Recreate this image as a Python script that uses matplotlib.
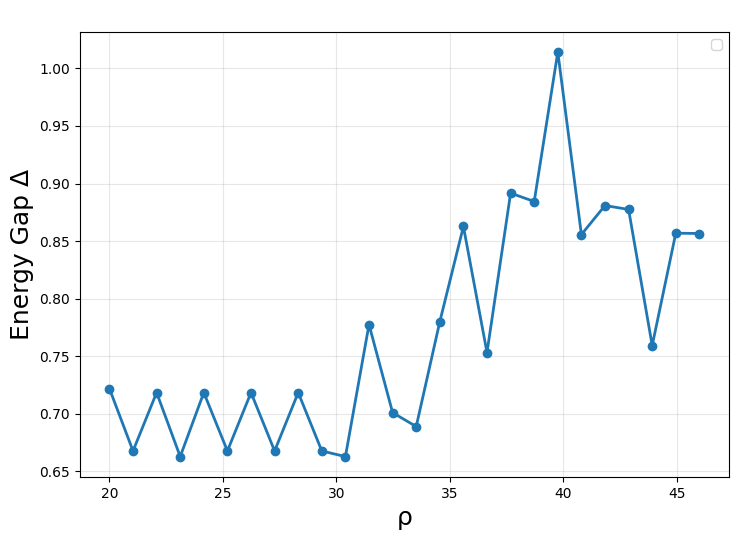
import numpy as np
import matplotlib
matplotlib.use("Agg")
import matplotlib.pyplot as plt

rho = [20.0, 21.04, 22.08, 23.12, 24.16, 25.2, 26.24, 27.28, 28.32, 29.36,
       30.4, 31.44, 32.48, 33.52, 34.56, 35.6, 36.64, 37.68, 38.72, 39.76,
       40.8, 41.84, 42.88, 43.92, 44.96, 46.0]
gap = [0.7219, 0.6677, 0.7184, 0.6628, 0.7184, 0.6677, 0.7184, 0.6677, 0.7184, 0.6677,
       0.6628, 0.7775, 0.7010, 0.6889, 0.7800, 0.8627, 0.7532, 0.8917, 0.8844, 1.0142,
       0.8557, 0.8809, 0.8775, 0.7593, 0.8569, 0.8566]

fig = plt.figure(figsize=(7.4, 5.4), dpi=100)
ax = fig.add_axes([0.108, 0.117, 0.877, 0.824])
ax.plot(rho, gap, marker='o', color='#1f77b4', linewidth=2, markersize=6)
ax.grid(True, alpha=0.3)
ax.set_xlabel('ρ', fontsize=18)
ax.set_ylabel('Energy Gap Δ', fontsize=18)
ax.legend()
fig.savefig('out.png', dpi=100)
